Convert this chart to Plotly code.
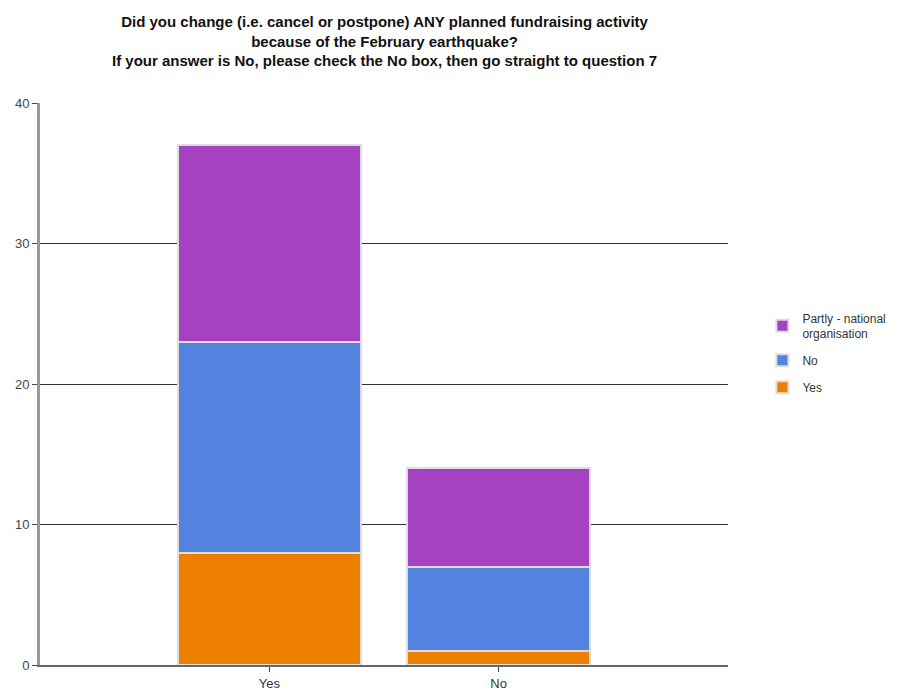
import plotly.graph_objects as go

categories = ["Yes", "No"]
series_names = ["Yes", "No", "Partly - national<br>organisation"]
values_yes = [8, 1]
values_no = [15, 6]
values_partly = [14, 7]
colors = ["#EC7E00", "#5383DE", "#A642C2"]
legend_ranks = [3, 2, 1]
y_ticks = [0, 10, 20, 30, 40]

title_lines = ["Did you change (i.e. cancel or postpone) ANY planned fundraising activity",
               "because of the February earthquake?",
               "If your answer is No, please check the No box, then go straight to question 7"]

fig = go.Figure()
for i, (name, vals, col, rank) in enumerate(zip(series_names, [values_yes, values_no, values_partly],
                                               colors, legend_ranks)):
    fig.add_trace(go.Bar(
        x=categories, y=vals, name=name, legendgroup=f"g{i}", legendrank=rank,
        marker=dict(color=col, line=dict(color="#DDDDDD", width=2)),
        width=0.8,
    ))

fig.add_annotation(
    text="<b>" + "<br>".join(title_lines) + "</b>",
    xref="paper", yref="paper", x=0.5, y=1, yshift=32,
    xanchor="center", yanchor="bottom", showarrow=False,
    font=dict(size=15, color="#111111", family="Liberation Sans, Arial, sans-serif"),
    align="center",
)

fig.update_layout(
    barmode="stack",
    width=904, height=693,
    paper_bgcolor="white", plot_bgcolor="white",
    margin=dict(l=40, r=176, t=103, b=28),
    font=dict(family="Liberation Sans, Arial, sans-serif", size=13, color="#333333"),
    showlegend=True,
    legend=dict(traceorder="grouped", x=1.05, y=0.643, xanchor="left", yanchor="top",
                font=dict(size=12, color="#333333"), itemwidth=30,
                tracegroupgap=8),
    xaxis=dict(range=[-1, 2], showgrid=False, showline=True, linecolor="#666666",
               linewidth=2, ticks="outside", ticklen=5, tickcolor="#444444",
               automargin=False,
               tickfont=dict(size=13, color="#333333")),
    yaxis=dict(range=[0, 40], tickvals=y_ticks, showgrid=True, gridcolor="#333333",
               gridwidth=1, showline=True, linecolor="#999999", linewidth=3,
               ticks="outside", ticklen=5, tickcolor="#444444", zeroline=False,
               automargin=False,
               tickfont=dict(size=13, color="#444444")),
)

fig.write_html("out.html")
